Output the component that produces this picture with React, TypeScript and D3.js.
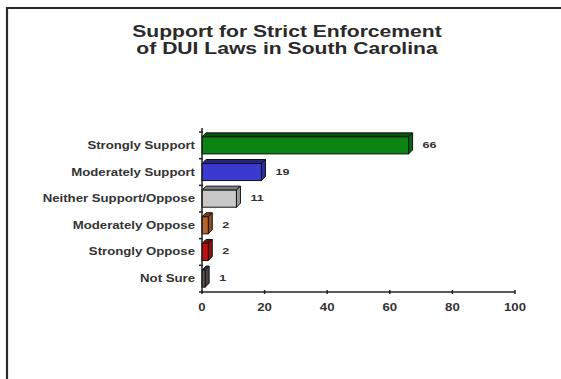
import React from "react";
import * as d3 from "d3";

const categories = [
  "Strongly Support",
  "Moderately Support",
  "Neither Support/Oppose",
  "Moderately Oppose",
  "Strongly Oppose",
  "Not Sure",
];
const values = [66, 19, 11, 2, 2, 1];
const barColors = ["#0b8412", "#3a3ad0", "#c8c8c8", "#b8642c", "#c21010", "#5a5a5a"];
const xTicks = [0, 20, 40, 60, 80, 100];
const titleLines = ["Support for Strict Enforcement", "of DUI Laws in South Carolina"];

const SX = 1.32;
const font = "Arial, 'Liberation Sans', sans-serif";

function T(props: { x: number; y: number; anchor: string; size: number; children: React.ReactNode; fill?: string }) {
  return (
    <text
      transform={`translate(${props.x},${props.y}) scale(${SX},1)`}
      textAnchor={props.anchor}
      fontFamily={font}
      fontWeight="bold"
      fontSize={props.size}
      fill={props.fill ?? "#333"}
    >
      {props.children}
    </text>
  );
}

export default function App() {
  const W = 561, H = 379;
  const x = d3.scaleLinear().domain([0, 100]).range([202, 515]);
  const y = d3.scaleBand().domain(categories).range([131, 293]).paddingInner(0.36).paddingOuter(0.22);
  const d = 4;
  const bw = y.bandwidth();
  const yTickPositions = categories.map((c) => (y(c) as number) - (y.step() * y.paddingInner()) / 2);
  return (
    <svg width={W} height={H} style={{ position: "absolute", left: 0, top: 0, background: "#fff" }}>
      <rect x={0} y={0} width={W} height={H} fill="#fff" />
      <path d={`M7,${H} L7,8 L${W},8`} fill="none" stroke="#2a2a2a" strokeWidth={2.2} />
      {titleLines.map((t, i) => (
        <T key={i} x={287} y={36.5 + i * 17.5} anchor="middle" size={16} fill="#2a2a2a">
          {t}
        </T>
      ))}
      {/* bars */}
      {categories.map((c, i) => {
        const x0 = x(0);
        const x1 = x(values[i]);
        const y0 = y(c) as number;
        const col = d3.color(barColors[i])!;
        const dark = col.darker(1.3).toString();
        const mid = col.darker(0.7).toString();
        return (
          <g key={c} stroke="#111" strokeWidth={1}>
            <path d={`M${x0},${y0} L${x0 + d},${y0 - d} L${x1 + d},${y0 - d} L${x1},${y0} Z`} fill={dark} />
            <path d={`M${x1},${y0} L${x1 + d},${y0 - d} L${x1 + d},${y0 + bw - d} L${x1},${y0 + bw} Z`} fill={mid} />
            <rect x={x0} y={y0} width={x1 - x0} height={bw} fill={barColors[i]} />
          </g>
        );
      })}
      {/* y axis */}
      <line x1={x(0)} x2={x(0)} y1={128} y2={292} stroke="#222" strokeWidth={1.5} />
      {yTickPositions.map((p, i) => (
        <line key={i} x1={x(0) - 3} x2={x(0) + 1} y1={p} y2={p} stroke="#222" strokeWidth={1.5} />
      ))}
      <line x1={x(0) - 3} x2={x(0) + 1} y1={292} y2={292} stroke="#222" strokeWidth={1.5} />
      {/* x axis */}
      <line x1={x(0)} x2={x(100)} y1={292} y2={292} stroke="#222" strokeWidth={1.5} />
      {xTicks.map((t) => (
        <g key={t}>
          <line x1={x(t)} x2={x(t)} y1={290} y2={294} stroke="#222" strokeWidth={1.5} />
          <T x={x(t)} y={310.5} anchor="middle" size={10}>
            {t}
          </T>
        </g>
      ))}
      {/* category labels */}
      {categories.map((c) => (
        <T key={c} x={195} y={(y(c) as number) + bw / 2 + 3.5} anchor="end" size={10}>
          {c}
        </T>
      ))}
      {/* value labels */}
      {categories.map((c, i) => (
        <T key={c} x={x(values[i]) + d + 10} y={(y(c) as number) + bw / 2 + 2.5} anchor="start" size={9.5}>
          {values[i]}
        </T>
      ))}
    </svg>
  );
}
